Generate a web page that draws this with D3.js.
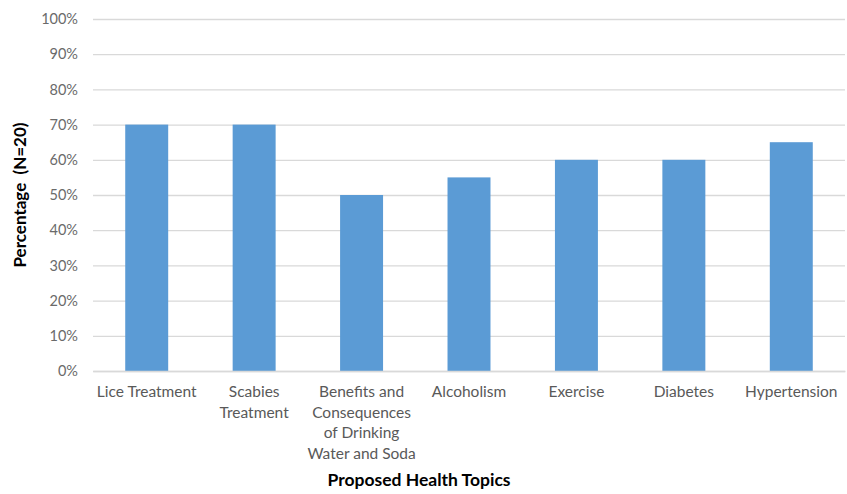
<!DOCTYPE html>
<html>
<head>
<meta charset="utf-8">
<script src="https://cdn.jsdelivr.net/npm/d3@7"></script>
<style>
  body { margin: 0; background: #fff; }
  text { font-family: "Lato", "Open Sans", sans-serif; }
</style>
</head>
<body>
<div id="chart-wrapper"></div>
<script>
const topics = ["Lice Treatment", "Scabies Treatment", "Benefits and Consequences of Drinking Water and Soda", "Alcoholism", "Exercise", "Diabetes", "Hypertension"]
const topicLines = [
  ["Lice Treatment"],
  ["Scabies", "Treatment"],
  ["Benefits and", "Consequences", "of Drinking", "Water and Soda"],
  ["Alcoholism"],
  ["Exercise"],
  ["Diabetes"],
  ["Hypertension"],
]
const percentages = [0.70, 0.70, 0.50, 0.55, 0.60, 0.60, 0.65]
const yTicks = [0, 0.1, 0.2, 0.3, 0.4, 0.5, 0.6, 0.7, 0.8, 0.9, 1.0]

function drawChart() {
  let dimensions = {
    width: 847,
    height: 494,
    margin: { top: 19, right: 2, bottom: 123, left: 93 },
  }
  dimensions.boundedWidth = dimensions.width - dimensions.margin.left - dimensions.margin.right
  dimensions.boundedHeight = dimensions.height - dimensions.margin.top - dimensions.margin.bottom

  const xScale = d3.scaleBand()
      .domain(topics)
      .range([0, dimensions.boundedWidth])
      .paddingInner(0.6)
      .paddingOuter(0.3)

  const yScale = d3.scaleLinear()
      .domain([0, 1])
      .range([dimensions.boundedHeight, 0])

  const wrapper = d3.select("#chart-wrapper")
    .append("svg")
      .attr("width", dimensions.width)
      .attr("height", dimensions.height)

  const bounds = wrapper.append("g")
      .attr("transform", `translate(${dimensions.margin.left},${dimensions.margin.top})`)

  // gridlines + y labels
  const yAxisGenerator = d3.axisLeft(yScale)
      .tickValues(yTicks)
      .tickFormat(d3.format(".0%"))
      .tickSize(-dimensions.boundedWidth)
      .tickPadding(15)

  const yAxis = bounds.append("g").call(yAxisGenerator)
  yAxis.select(".domain").remove()
  yAxis.selectAll("line").attr("stroke", "#d9d9d9").attr("stroke-width", 1.3)
  yAxis.selectAll("text")
      .attr("fill", "#6a6a6a")
      .style("font-size", "14.5px")

  // bars
  bounds.selectAll("rect")
    .data(percentages)
    .join("rect")
      .attr("x", (d, i) => xScale(topics[i]))
      .attr("y", d => yScale(d))
      .attr("width", xScale.bandwidth())
      .attr("height", d => dimensions.boundedHeight - yScale(d))
      .attr("fill", "#5b9bd5")

  // x axis
  const xAxisGenerator = d3.axisBottom(xScale).tickSize(0).tickFormat("")
  const xAxis = bounds.append("g")
      .attr("transform", `translate(0,${dimensions.boundedHeight})`)
      .call(xAxisGenerator)
  xAxis.select(".domain").attr("stroke", "#d9d9d9").attr("stroke-width", 1.3)

  xAxis.selectAll(".tick").each(function(d, i) {
    const t = d3.select(this).append("text")
        .attr("fill", "#595959")
        .attr("text-anchor", "middle")
        .style("font-size", "15.5px")
    topicLines[i].forEach((line, j) => {
      t.append("tspan")
        .attr("x", 0)
        .attr("y", 26 + j * 20.5)
        .text(line)
    })
  })

  // titles
  wrapper.append("text")
      .attr("x", 419)
      .attr("y", 486)
      .attr("text-anchor", "middle")
      .style("font-size", "17.5px")
      .style("font-weight", "bold")
      .text("Proposed Health Topics")

  wrapper.append("text")
      .attr("transform", `translate(26,${dimensions.margin.top + dimensions.boundedHeight / 2}) rotate(-90)`)
      .attr("text-anchor", "middle")
      .style("font-size", "17px")
      .style("font-weight", "bold")
      .style("white-space", "pre")
      .text("Percentage  (N=20)")
}

drawChart()
</script>
</body>
</html>
